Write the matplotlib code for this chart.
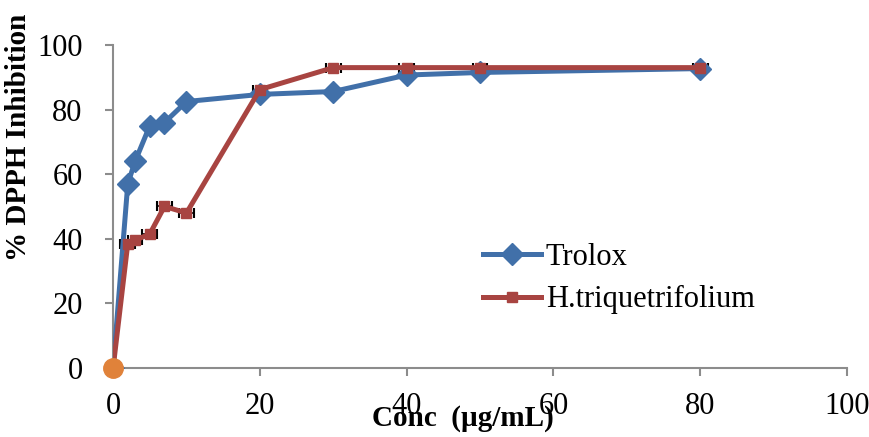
import matplotlib
matplotlib.use("Agg")
import matplotlib.pyplot as plt

conc = [0, 2, 3, 5, 7, 10, 20, 30, 40, 50, 80]
trolox = [0, 57, 64, 75, 76, 82.5, 84.7, 85.6, 90.7, 91.5, 92.7]
htri = [0, 38.5, 39.5, 41.5, 50, 48, 86.2, 93, 93, 93, 93]
htri_xerr = [0, 1, 1, 1, 1, 1, 1, 1, 1, 1, 1]

plt.rcParams['font.family'] = ['Liberation Serif', 'DejaVu Serif']

fig = plt.figure(figsize=(8.7, 4.37), dpi=100)
ax = fig.add_axes([0.13, 0.158, 0.8436, 0.739])

blue = '#4170A9'
red = '#A84441'
ax.plot(conc, trolox, color=blue, lw=3.6, marker='D', ms=11, mec=blue, mfc=blue, label='Trolox', zorder=3)
ax.errorbar(conc[1:], htri[1:], xerr=htri_xerr[1:], fmt='none', ecolor='black', elinewidth=1.2, capsize=3.5, capthick=1.5, zorder=2)
ax.plot(conc, htri, color=red, lw=3.6, marker='s', ms=7.5, mec=red, mfc=red, label='H.triquetrifolium', zorder=4)
ax.plot([0], [0], 'o', color='#E0823A', ms=14, zorder=5, clip_on=False)

ax.set_xlim(0, 100)
ax.set_ylim(0, 100)
ax.set_xticks(range(0, 101, 20))
ax.set_yticks(range(0, 101, 20))
for s in ['top', 'right']:
    ax.spines[s].set_visible(False)
for s in ['left', 'bottom']:
    ax.spines[s].set_color('#8C8C8C')
    ax.spines[s].set_linewidth(1.5)
ax.tick_params(axis='both', direction='out', color='#8C8C8C', width=1.5, length=6, labelsize=22)
ax.tick_params(axis='x', pad=11)
ax.tick_params(axis='y', pad=16)

ax.set_ylabel('% DPPH Inhibition', fontsize=21, fontweight='bold')
ax.yaxis.set_label_coords(-0.110, 0.715)
fig.text(463 / 870, 1 - 426 / 437, 'Conc  (\u00b5g/mL)', fontsize=21, fontweight='bold',
         ha='center', va='baseline')

leg = ax.legend(loc='center left', bbox_to_anchor=(0.504, 0.277), frameon=False, fontsize=22,
                handlelength=1.9, handletextpad=0.15, labelspacing=0.45, borderaxespad=0, borderpad=0)

fig.savefig('out.png', dpi=100)
